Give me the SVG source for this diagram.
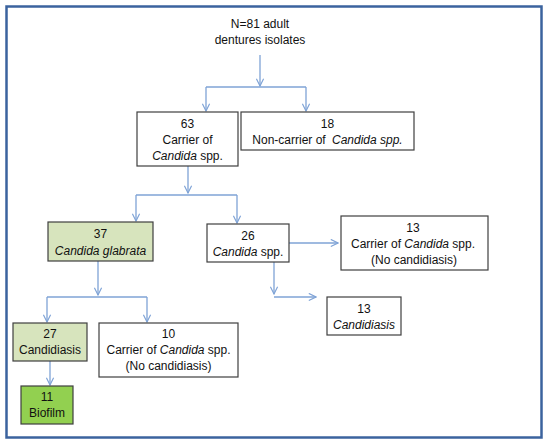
<svg xmlns="http://www.w3.org/2000/svg" width="550" height="446" viewBox="0 0 550 446">
<defs>
<marker id="a" viewBox="0 0 10 10" refX="9" refY="5" markerWidth="9" markerHeight="9" markerUnits="userSpaceOnUse" orient="auto">
<path d="M1,1 L9,5 L1,9" fill="none" stroke="#7FA3D6" stroke-width="1.3"/>
</marker>
<style>
text{font-family:"Liberation Sans",Arial,sans-serif;font-size:12px;fill:#111;text-anchor:middle}
.i{font-style:italic}
.box{fill:#fff;stroke:#3f3f3f;stroke-width:1.2}
.g1{fill:#D7E4BD}
.g2{fill:#92D050}
.c{fill:none;stroke:#7FA3D6;stroke-width:1.3}
.ar{marker-end:url(#a)}
</style>
</defs>
<rect x="0" y="0" width="550" height="446" fill="#fff"/>
<rect x="6.5" y="6.5" width="535" height="431" fill="none" stroke="#3B639E" stroke-width="2.5"/>
<g id="connectors">
<path class="c ar" d="M260,55 V86"/>
<path class="c" d="M206,87 H306"/>
<path class="c ar" d="M206,87 V111"/>
<path class="c ar" d="M306,87 V111"/>
<path class="c ar" d="M188,166 V193"/>
<path class="c" d="M136,195 H237"/>
<path class="c ar" d="M136,195 V221"/>
<path class="c ar" d="M237,195 V223"/>
<path class="c ar" d="M289,243 H338"/>
<path class="c ar" d="M274,262 V294"/>
<path class="c ar" d="M274,297 H316"/>
<path class="c ar" d="M98,261 V295"/>
<path class="c" d="M47,297 H147"/>
<path class="c ar" d="M47,297 V322"/>
<path class="c ar" d="M147,297 V322"/>
<path class="c ar" d="M50,361 V385"/>
</g>
<g id="n81">
<text x="260" y="28">N=81 adult</text>
<text x="260" y="44">dentures isolates</text>
</g>
<g id="n63">
<rect class="box" x="137" y="112" width="101" height="54"/>
<text x="187.5" y="128">63</text>
<text x="187.5" y="144">Carrier of</text>
<text x="187.5" y="160"><tspan class="i">Candida</tspan> spp.</text>
</g>
<g id="n18">
<rect class="box" x="241" y="112" width="173" height="38"/>
<text x="327.5" y="128">18</text>
<text x="327.5" y="144">Non-carrier of <tspan class="i" dx="3">Candida spp.</tspan></text>
</g>
<g id="n37">
<rect class="box g1" x="48" y="222" width="105" height="39"/>
<text x="100.5" y="238">37</text>
<text x="100.5" y="255" class="i">Candida glabrata</text>
</g>
<g id="n26">
<rect class="box" x="207" y="224" width="82" height="38"/>
<text x="248" y="240">26</text>
<text x="248" y="256"><tspan class="i">Candida</tspan> spp.</text>
</g>
<g id="n13a">
<rect class="box" x="341" y="216" width="147" height="54"/>
<text x="413" y="232">13</text>
<text x="413" y="248">Carrier of <tspan class="i">Candida</tspan> spp.</text>
<text x="414" y="264">(No candidiasis)</text>
</g>
<g id="n13b">
<rect class="box" x="327" y="297" width="74" height="38"/>
<text x="364" y="313">13</text>
<text x="364" y="329" class="i">Candidiasis</text>
</g>
<g id="n27">
<rect class="box g1" x="13" y="323" width="74" height="38"/>
<text x="50" y="338">27</text>
<text x="50" y="354">Candidiasis</text>
</g>
<g id="n10">
<rect class="box" x="99" y="323" width="139" height="54"/>
<text x="168.5" y="338">10</text>
<text x="168.5" y="354">Carrier of <tspan class="i">Candida</tspan> spp.</text>
<text x="168.5" y="370">(No candidiasis)</text>
</g>
<g id="n11">
<rect class="box g2" x="21" y="386" width="52" height="38"/>
<text x="47" y="401">11</text>
<text x="47" y="417">Biofilm</text>
</g>
</svg>
